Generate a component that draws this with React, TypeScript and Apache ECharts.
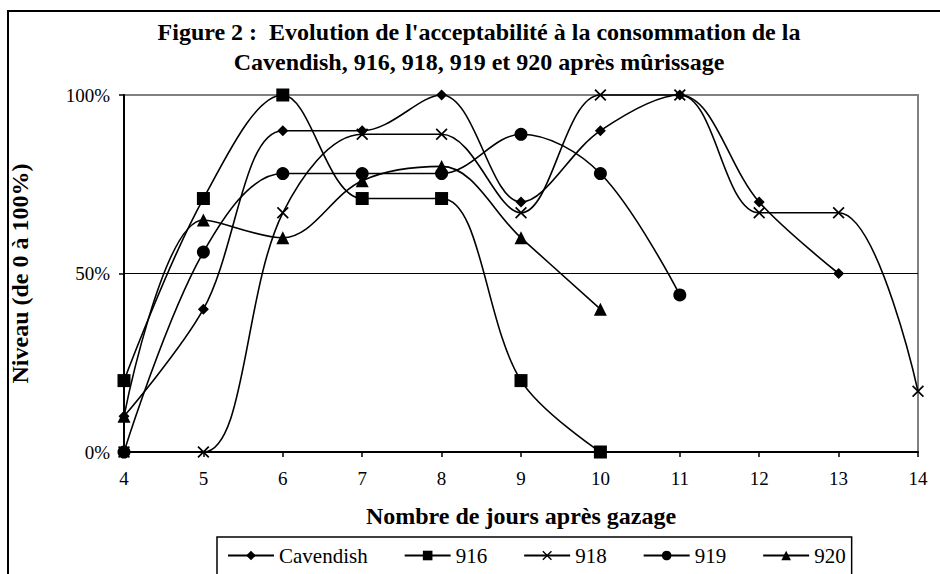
import React, { useEffect, useRef } from "react";
import * as echarts from "echarts";

const days = ["4", "5", "6", "7", "8", "9", "10", "11", "12", "13", "14"];
const cavendish = [10, 40, 90, 90, 100, 70, 90, 100, 70, 50, null];
const s916 = [20, 71, 100, 71, 71, 20, 0, null, null, null, null];
const s918 = [0, 0, 67, 89, 89, 67, 100, 100, 67, 67, 17];
const s919 = [0, 56, 78, 78, 78, 89, 78, 44, null, null, null];
const s920 = [10, 65, 60, 76, 80, 60, 40, null, null, null, null];
const yTicks = [0, 50, 100];

const FONT = "Liberation Serif";
const CROSS = "path://M0,1L1,0L5,4L9,0L10,1L6,5L10,9L9,10L5,6L1,10L0,9L4,5Z";

export default function App() {
  const ref = useRef<HTMLDivElement>(null);
  useEffect(() => {
    if (!ref.current) return;
    const chart = echarts.init(ref.current, null, { renderer: "svg" });
    const mk = (name: string, data: (number | null)[], symbol: string, size: number) => ({
      name,
      type: "line",
      data,
      symbol,
      symbolSize: size,
      showSymbol: true,
      smooth: 0.35,
      clip: false,
      connectNulls: false,
      lineStyle: { color: "#000", width: 1.6 },
      itemStyle: { color: "#000" },
      emphasis: { disabled: true },
    });
    chart.setOption({
      animation: false,
      backgroundColor: "#fff",
      grid: {
        left: 122,
        right: 22,
        top: 95,
        bottom: 122,
        show: true,
        borderColor: "#808080",
        borderWidth: 2,
        backgroundColor: "transparent",
      },
      graphic: [
        {
          type: "rect",
          z: -10,
          shape: { x: 8, y: 11, width: 1000, height: 1000 },
          style: { fill: "none", stroke: "#000", lineWidth: 2 },
        },
        {
          type: "text",
          x: 479,
          y: 32,
          style: {
            text: "Figure 2 :  Evolution de l'acceptabilité à la consommation de la",
            fontFamily: FONT,
            fontSize: 24,
            fontWeight: "bold",
            fill: "#000",
            textAlign: "center",
            textVerticalAlign: "middle",
          },
        },
        {
          type: "text",
          x: 479,
          y: 62,
          style: {
            text: "Cavendish, 916, 918, 919 et 920 après mûrissage",
            fontFamily: FONT,
            fontSize: 24,
            fontWeight: "bold",
            fill: "#000",
            textAlign: "center",
            textVerticalAlign: "middle",
          },
        },
      ],
      legend: {
        left: 217,
        top: 537,
        orient: "horizontal",
        itemWidth: 46,
        itemHeight: 12,
        itemGap: 36,
        padding: [8, 6, 10, 10],
        borderColor: "#000",
        borderWidth: 1.5,
        textStyle: { fontFamily: FONT, fontSize: 21, color: "#000" },
        data: ["Cavendish", "916", "918", "919", "920"],
      },
      xAxis: {
        type: "category",
        data: days,
        boundaryGap: false,
        axisLine: { show: true, lineStyle: { color: "#000", width: 2 } },
        axisTick: { show: true, inside: false, length: 5, lineStyle: { color: "#000", width: 1.5 } },
        axisLabel: { fontFamily: FONT, fontSize: 19, color: "#000", margin: 17 },
        splitLine: { show: false },
        name: "Nombre de jours après gazage",
        nameLocation: "middle",
        nameGap: 52,
        nameTextStyle: { fontFamily: FONT, fontSize: 24, fontWeight: "bold", color: "#000" },
      },
      yAxis: {
        type: "value",
        min: yTicks[0],
        max: yTicks[yTicks.length - 1],
        interval: 50,
        axisLine: { show: true, lineStyle: { color: "#000", width: 2 } },
        axisTick: { show: true, inside: false, length: 5, lineStyle: { color: "#000", width: 1.5 } },
        axisLabel: { fontFamily: FONT, fontSize: 19, color: "#000", margin: 14, formatter: "{value}%" },
        splitLine: { show: true, lineStyle: { color: ["#000", "#000", "#808080"], width: 1 } },
        name: "Niveau (de 0 à 100%)",
        nameLocation: "middle",
        nameGap: 92,
        nameRotate: 90,
        nameTextStyle: { fontFamily: FONT, fontSize: 24, fontWeight: "bold", color: "#000" },
      },
      series: [
        mk("Cavendish", cavendish, "diamond", 11),
        mk("916", s916, "rect", 13),
        mk("918", s918, CROSS, 12),
        mk("919", s919, "circle", 13),
        mk("920", s920, "triangle", 13),
      ],
    });
    return () => chart.dispose();
  }, []);
  return (
    <div
      ref={ref}
      style={{ position: "fixed", left: 0, top: 0, width: 940, height: 574, background: "#fff" }}
    />
  );
}
